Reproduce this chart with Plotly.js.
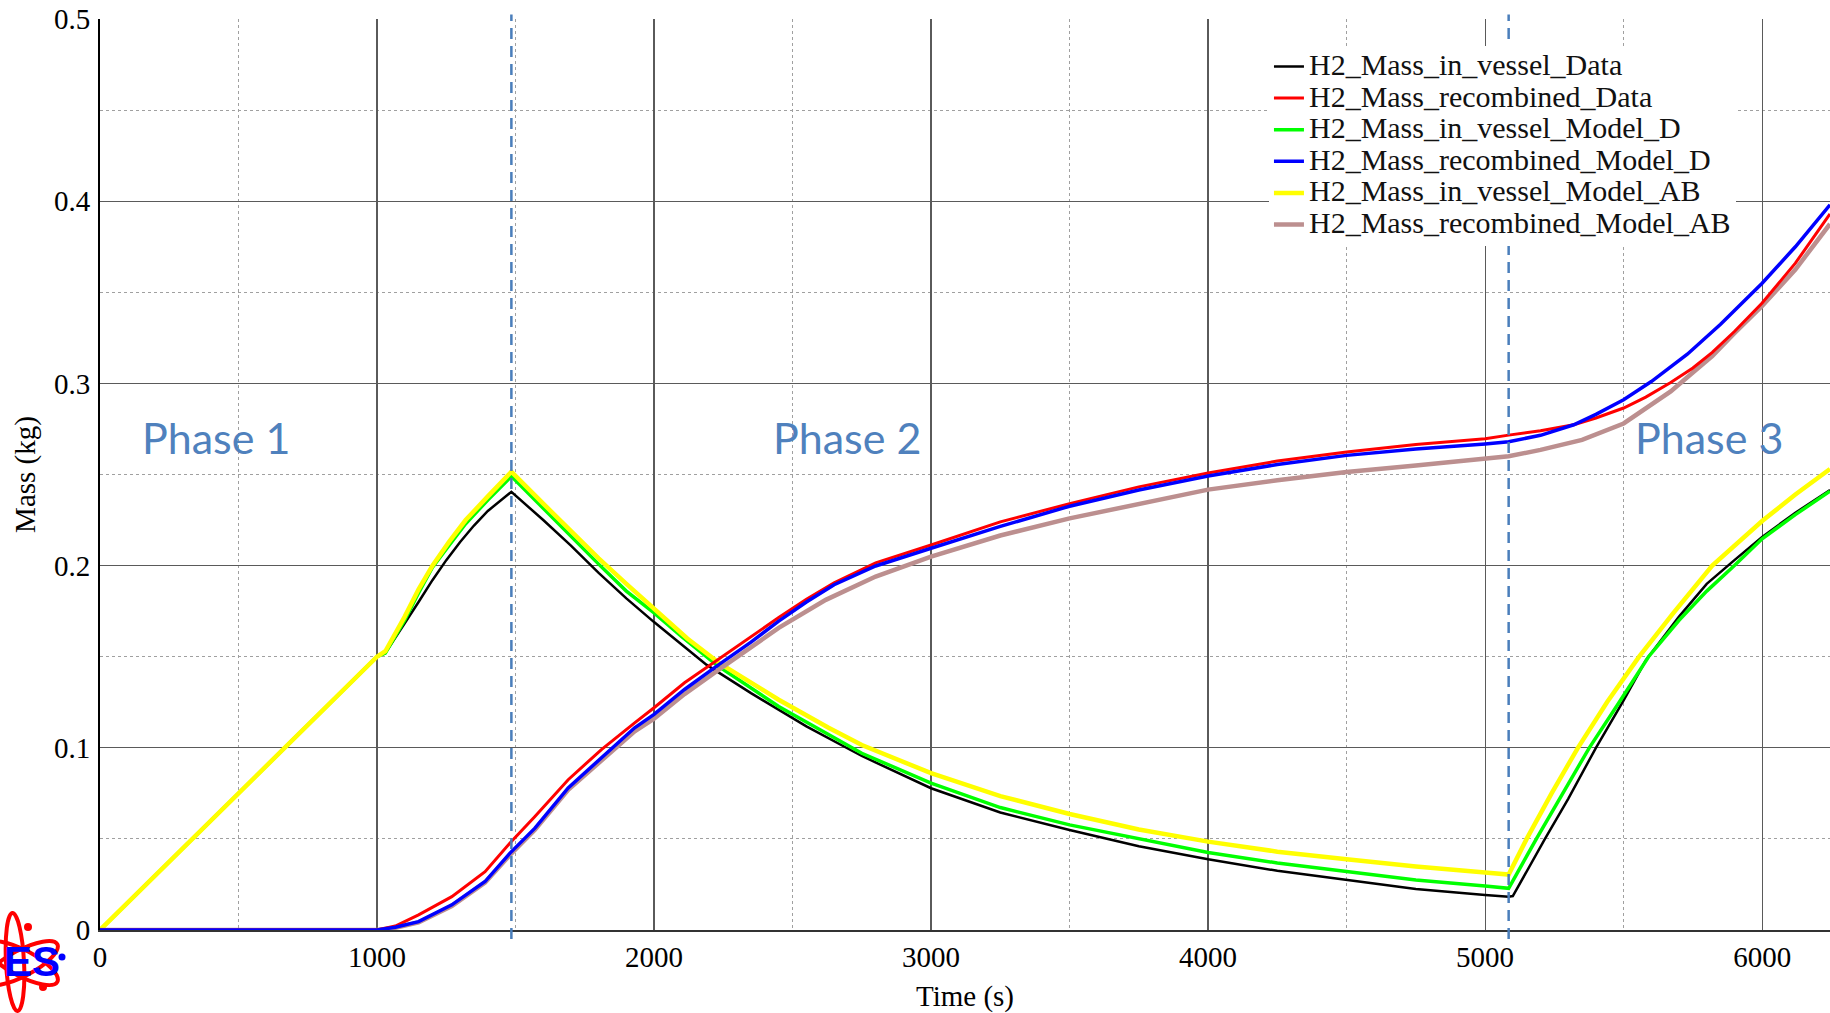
<!DOCTYPE html>
<html>
<head>
<meta charset="utf-8">
<script src="https://cdn.plot.ly/plotly-3.0.1.min.js"></script>
<style>
  html, body { margin: 0; padding: 0; background: #ffffff; }
  #chart { width: 1830px; height: 1013px; }
</style>
</head>
<body>
<div id="chart"></div>
<script>
// ---------------- Data ----------------
const seriesNames = [
  "H2_Mass_in_vessel_Data",
  "H2_Mass_recombined_Data",
  "H2_Mass_in_vessel_Model_D",
  "H2_Mass_recombined_Model_D",
  "H2_Mass_in_vessel_Model_AB",
  "H2_Mass_recombined_Model_AB"
];

const tVesselData = [0, 500, 1000, 1030, 1100, 1150, 1200, 1250, 1300, 1350, 1400, 1450, 1485, 1600, 1700, 1800, 1900, 2000, 2190, 2350, 2550, 2750, 3000, 3250, 3500, 3750, 4000, 4250, 4500, 4750, 5000, 5085, 5100, 5160, 5216, 5300, 5400, 5500, 5580, 5700, 5800, 5900, 6000, 6120, 6245];
const mVesselData = [0, 0.075, 0.150, 0.152, 0.168, 0.180, 0.192, 0.203, 0.213, 0.222, 0.230, 0.236, 0.2405, 0.225, 0.211, 0.196, 0.182, 0.169, 0.1455, 0.130, 0.1118, 0.0955, 0.0778, 0.0645, 0.0549, 0.046, 0.0388, 0.0325, 0.0275, 0.0225, 0.0192, 0.0183, 0.0186, 0.035, 0.050, 0.072, 0.100, 0.126, 0.148, 0.172, 0.190, 0.203, 0.2157, 0.229, 0.2415];

const tRecombData = [0, 1000, 1066, 1150, 1270, 1390, 1480, 1570, 1690, 1810, 1930, 2000, 2110, 2230, 2320, 2450, 2550, 2650, 2800, 3000, 3250, 3500, 3750, 4000, 4250, 4500, 4750, 5000, 5085, 5200, 5320, 5400, 5500, 5580, 5670, 5750, 5820, 5900, 6000, 6120, 6245];
const mRecombData = [0, 0, 0.0022, 0.0083, 0.0183, 0.032, 0.0477, 0.0623, 0.0825, 0.099, 0.1137, 0.122, 0.1357, 0.1485, 0.1577, 0.1715, 0.1815, 0.1905, 0.2015, 0.2113, 0.224, 0.234, 0.2432, 0.2508, 0.2574, 0.2623, 0.2665, 0.2696, 0.2716, 0.274, 0.2773, 0.281, 0.2865, 0.2925, 0.3005, 0.3085, 0.317, 0.3285, 0.3441, 0.366, 0.393];

const tVesselD = [0, 500, 1000, 1030, 1100, 1150, 1200, 1260, 1320, 1400, 1485, 1600, 1700, 1800, 1900, 2000, 2100, 2230, 2450, 2630, 2750, 3000, 3250, 3500, 3750, 4000, 4250, 4500, 4750, 5000, 5085, 5185, 5280, 5376, 5480, 5590, 5700, 5800, 5900, 6000, 6120, 6245];
const mVesselD = [0, 0.075, 0.150, 0.152, 0.170, 0.185, 0.199, 0.211, 0.223, 0.236, 0.249, 0.2315, 0.216, 0.2008, 0.186, 0.174, 0.161, 0.145, 0.1227, 0.107, 0.097, 0.0806, 0.0672, 0.0577, 0.050, 0.0425, 0.0368, 0.032, 0.0275, 0.0242, 0.0229, 0.050, 0.075, 0.100, 0.124, 0.150, 0.170, 0.186, 0.200, 0.2147, 0.228, 0.2408];

const tRecombD = [0, 1000, 1066, 1150, 1270, 1390, 1480, 1570, 1690, 1810, 1930, 2000, 2110, 2230, 2350, 2450, 2550, 2650, 2800, 3000, 3250, 3500, 3750, 4000, 4250, 4500, 4750, 5000, 5085, 5200, 5320, 5400, 5500, 5600, 5730, 5850, 6000, 6120, 6245];
const mRecombD = [0, 0, 0.0015, 0.0046, 0.0138, 0.0266, 0.0422, 0.0559, 0.078, 0.0944, 0.111, 0.1183, 0.132, 0.1452, 0.158, 0.1695, 0.180, 0.1895, 0.1998, 0.2095, 0.2215, 0.2326, 0.2415, 0.2492, 0.2555, 0.2605, 0.264, 0.2668, 0.268, 0.2715, 0.2773, 0.283, 0.291, 0.301, 0.316, 0.3325, 0.355, 0.375, 0.398];

const tVesselAB = [0, 500, 1000, 1030, 1100, 1150, 1200, 1260, 1320, 1400, 1485, 1600, 1700, 1800, 1900, 2000, 2120, 2240, 2450, 2630, 2750, 3000, 3250, 3500, 3750, 4000, 4250, 4500, 4750, 5000, 5085, 5150, 5240, 5335, 5440, 5556, 5680, 5820, 5900, 6000, 6120, 6245];
const mVesselAB = [0, 0.075, 0.150, 0.153, 0.172, 0.187, 0.200, 0.213, 0.225, 0.238, 0.2515, 0.234, 0.219, 0.204, 0.190, 0.1765, 0.160, 0.146, 0.1264, 0.111, 0.1015, 0.0861, 0.0735, 0.0637, 0.0552, 0.0485, 0.043, 0.0388, 0.0348, 0.0315, 0.0304, 0.050, 0.075, 0.100, 0.125, 0.150, 0.174, 0.200, 0.211, 0.2245, 0.239, 0.253];

const tRecombAB = [0, 1000, 1066, 1150, 1270, 1390, 1480, 1570, 1690, 1810, 1930, 2000, 2110, 2230, 2350, 2450, 2620, 2800, 3000, 3250, 3500, 3750, 4000, 4250, 4500, 4750, 5000, 5085, 5200, 5350, 5500, 5580, 5670, 5750, 5820, 5900, 6000, 6120, 6245];
const mRecombAB = [0, 0, 0.0012, 0.0042, 0.0132, 0.026, 0.0412, 0.055, 0.077, 0.093, 0.109, 0.116, 0.1295, 0.1425, 0.155, 0.1658, 0.1812, 0.194, 0.2049, 0.2165, 0.2259, 0.234, 0.2417, 0.2468, 0.2514, 0.255, 0.2587, 0.260, 0.2635, 0.269, 0.278, 0.286, 0.2956, 0.306, 0.315, 0.3275, 0.3425, 0.3625, 0.3875];

const phaseBoundaries = [1485, 5085];
const phaseLabels = ["Phase 1", "Phase 2", "Phase 3"];
const xTickValues = [0, 1000, 2000, 3000, 4000, 5000, 6000];
const yTickValues = [0, 0.1, 0.2, 0.3, 0.4, 0.5];

// ---------------- Styling ----------------
const serif = "Liberation Serif, Times New Roman, serif";
const colors = ["#000000", "#ff0000", "#00ff00", "#0000ff", "#ffff00", "#bc8f8f"];
const widths = [2.5, 3, 3.5, 3.5, 4.5, 4.5];

function mk(i, t, m) {
  return {
    type: "scatter", mode: "lines", x: t, y: m,
    name: '<span style="font-size:30px">' + seriesNames[i] + '</span>',
    legendrank: i + 1,
    line: { color: colors[i], width: widths[i] }
  };
}

// drawing order (bottom to top)
const traces = [
  mk(0, tVesselData, mVesselData),
  mk(2, tVesselD, mVesselD),
  mk(4, tVesselAB, mVesselAB),
  mk(5, tRecombAB, mRecombAB),
  mk(1, tRecombData, mRecombData),
  mk(3, tRecombD, mRecombD)
];

const shapes = phaseBoundaries.map(xb => ({
  type: "line", xref: "x", yref: "paper", x0: xb, x1: xb, y0: -0.01, y1: 1.005,
  line: { color: "#4a7ebb", width: 2.5, dash: "11px,7px" }, layer: "above"
}));

const phaseX = [420, 2697, 5809];
const annotations = phaseLabels.map((txt, i) => ({
  text: txt, x: phaseX[i], y: 0.2704, xref: "x", yref: "y",
  showarrow: false, xanchor: "center", yanchor: "middle",
  font: { family: "Lato, Open Sans, sans-serif", size: 43, color: "#4f81bd" }
}));
annotations.push({
  text: "ES", xref: "paper", yref: "paper", x: -0.0566, y: -0.0346,
  xanchor: "left", yanchor: "middle", showarrow: false,
  font: { family: "Liberation Sans, Arial, sans-serif", size: 42, color: "#0000ff", weight: "bold" }
});

const logoSvg =
  "<svg xmlns='http://www.w3.org/2000/svg' width='70' height='108' viewBox='0 0 70 108' preserveAspectRatio='none'>" +
  "<g fill='none' stroke='#ff0000' stroke-width='4'>" +
  "<ellipse cx='15' cy='57' rx='9' ry='49' transform='rotate(-3 15 57)'/>" +
  "<ellipse cx='22' cy='58' rx='40' ry='13' transform='rotate(28 22 58)'/>" +
  "<ellipse cx='22' cy='58' rx='40' ry='13' transform='rotate(-28 22 58)'/>" +
  "</g>" +
  "<circle cx='28' cy='22' r='4' fill='#ff0000'/>" +
  "<circle cx='43' cy='82' r='4' fill='#ff0000'/>" +
  "<circle cx='62' cy='52' r='3.5' fill='#0000ff'/>" +
  "</svg>";

const layout = {
  width: 1830, height: 1013,
  margin: { l: 100, r: 0, t: 19, b: 83, pad: 0 },
  paper_bgcolor: "#ffffff", plot_bgcolor: "#ffffff",
  font: { family: serif, color: "#000000" },
  showlegend: true,
  legend: {
    x: 0.6757, y: 0.9707, xanchor: "left", yanchor: "top",
    bgcolor: "#ffffff", borderwidth: 0,
    font: { family: serif, size: 22, color: "#111111" }
  },
  xaxis: {
    range: [0, 6245], tickvals: xTickValues, ticks: "", showline: true,
    linecolor: "#333333", linewidth: 2, zeroline: false,
    showgrid: true, gridcolor: "#5a5a5a", gridwidth: 1.2,
    minor: { dtick: 500, showgrid: true, gridcolor: "#a0a0a0", griddash: "dot", gridwidth: 1 },
    tickfont: { family: serif, size: 29, color: "#000000" },
    ticklabelstandoff: 0,
    title: { text: "Time (s)", font: { family: serif, size: 29, color: "#000000" }, standoff: 16 }
  },
  yaxis: {
    range: [0, 0.5], tickvals: yTickValues, ticks: "", showline: true,
    linecolor: "#000000", linewidth: 2, zeroline: false,
    showgrid: true, gridcolor: "#5a5a5a", gridwidth: 1.2,
    minor: { dtick: 0.05, showgrid: true, gridcolor: "#a0a0a0", griddash: "dot", gridwidth: 1 },
    tickfont: { family: serif, size: 29, color: "#000000" },
    ticklabelstandoff: 2,
    title: { text: "Mass (kg)", font: { family: serif, size: 29, color: "#000000" }, standoff: 10 }
  },
  shapes: shapes,
  annotations: annotations,
  images: [{
    source: "data:image/svg+xml;charset=utf-8," + encodeURIComponent(logoSvg),
    xref: "paper", yref: "paper", x: -0.0578, y: 0.0274,
    sizex: 0.04046, sizey: 0.1186, sizing: "stretch",
    xanchor: "left", yanchor: "top", layer: "above"
  }]
};

Plotly.newPlot("chart", traces, layout, { displayModeBar: false, staticPlot: true });
</script>
</body>
</html>
